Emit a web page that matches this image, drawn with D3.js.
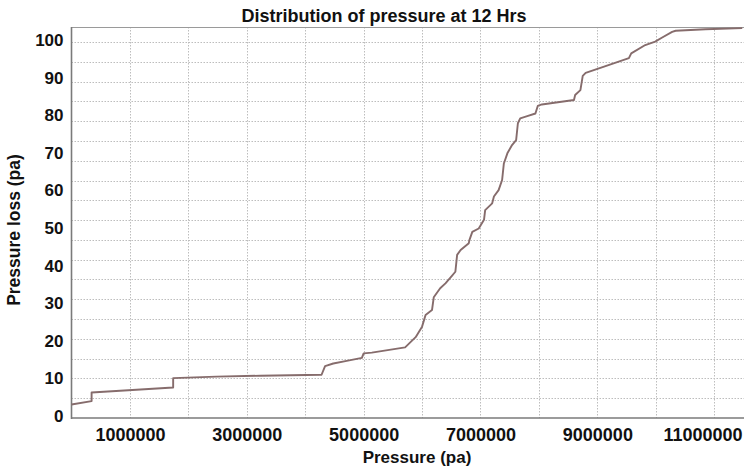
<!DOCTYPE html>
<html>
<head>
<meta charset="utf-8">
<script src="https://cdn.jsdelivr.net/npm/d3@7"></script>
<style>
  html, body { margin: 0; padding: 0; background: #ffffff; }
  svg { display: block; }
  text { font-family: "Liberation Sans", Arial, sans-serif; font-weight: bold; fill: #111; }
</style>
</head>
<body>
<svg id="chart" width="744" height="471"></svg>
<script>
// ---- data ----
const pressure = [
  0, 344000, 344000, 1740000, 1740000, 2480000, 3230000, 4280000, 4340000, 4480000,
  4710000, 4970000, 5000000, 5140000, 5710000, 5890000, 6000000, 6060000, 6170000, 6200000,
  6310000, 6400000, 6500000, 6570000, 6600000, 6660000, 6800000, 6810000, 6860000, 6970000,
  7060000, 7080000, 7200000, 7230000, 7310000, 7370000, 7400000, 7460000, 7540000, 7610000,
  7640000, 7680000, 7800000, 7940000, 7980000, 8050000, 8600000, 8620000, 8710000, 8750000,
  8800000, 9140000, 9540000, 9580000, 9820000, 9990000, 10110000, 10280000, 10340000, 10850000,
  11480000
];
const pressureLoss = [
  3.6, 4.5, 6.8, 8.1, 10.6, 11.0, 11.25, 11.5, 13.8, 14.5,
  15.2, 16.0, 17.2, 17.4, 18.8, 21.5, 24.3, 27.4, 28.7, 32.1,
  34.5, 35.8, 37.6, 38.9, 43.4, 44.7, 46.5, 47.3, 49.5, 50.4,
  52.7, 55.3, 57.1, 58.9, 60.6, 63.3, 67.7, 70.4, 72.6, 73.9,
  78.4, 79.7, 80.3, 81.0, 83.0, 83.4, 84.6, 85.9, 87.2, 91.0,
  91.8, 93.6, 95.7, 97.0, 99.2, 100.1, 101.2, 102.7, 103.0, 103.4,
  103.7
];
const xTickValues = [1000000, 3000000, 5000000, 7000000, 9000000, 11000000];
const yTickValues = [0, 10, 20, 30, 40, 50, 60, 70, 80, 90, 100];
const xGridValues = [1000000, 2000000, 3000000, 4000000, 5000000, 6000000, 7000000, 8000000, 9000000, 10000000, 11000000];
const yGridValues = d3.range(1, 20).map(i => i * 100 / 19);
const titleText = "Distribution of pressure at 12 Hrs";
const xTitle = "Pressure (pa)";
const yTitle = "Pressure loss (pa)";

// ---- layout ----
const svg = d3.select("#chart");
const L = 71.5, R = 744, T = 27, B = 418;

const x = d3.scaleLinear().domain([0, 11510000]).range([L, R]);
const y = d3.scaleLinear().domain([0, 104]).range([B, T]);

// grid
const grid = svg.append("g");
grid.selectAll("line.h").data(yGridValues).join("line")
  .attr("x1", L).attr("x2", R)
  .attr("y1", d => Math.round(y(d)) + 0.5).attr("y2", d => Math.round(y(d)) + 0.5)
  .attr("stroke", "#bdbdbd").attr("stroke-width", 1).attr("stroke-dasharray", "1.5,1.5");
grid.selectAll("line.v").data(xGridValues).join("line")
  .attr("y1", T).attr("y2", B)
  .attr("x1", d => Math.round(x(d)) + 0.5).attr("x2", d => Math.round(x(d)) + 0.5)
  .attr("stroke", "#bdbdbd").attr("stroke-width", 1).attr("stroke-dasharray", "1.5,1.5");

// frame
svg.append("line").attr("x1", L).attr("x2", R).attr("y1", T + 0.5).attr("y2", T + 0.5)
  .attr("stroke", "#9a9a9a").attr("stroke-width", 1.2);
svg.append("line").attr("x1", L).attr("x2", L).attr("y1", T).attr("y2", B + 1)
  .attr("stroke", "#7a7a7a").attr("stroke-width", 1.6);
svg.append("line").attr("x1", L).attr("x2", R).attr("y1", B).attr("y2", B)
  .attr("stroke", "#7a7a7a").attr("stroke-width", 1.6);

// curve
const line = d3.line().x((d, i) => x(pressure[i])).y((d, i) => y(pressureLoss[i]));
svg.append("path").datum(pressureLoss)
  .attr("d", line)
  .attr("fill", "none")
  .attr("stroke", "#866c6c")
  .attr("stroke-width", 1.9)
  .attr("stroke-linejoin", "round");

// y axis labels
const yAxis = d3.axisLeft(y).tickValues(yTickValues).tickSize(0).tickPadding(8).tickFormat(d3.format("d"));
const gy = svg.append("g").attr("transform", `translate(${L},0)`).call(yAxis);
gy.select(".domain").remove();
gy.selectAll("text").style("font-size", "17px").attr("dy", "0.2em").attr("x", -8);

// x axis labels
const xAxis = d3.axisBottom(x).tickValues(xTickValues).tickSize(0).tickPadding(10).tickFormat(d3.format("d"));
const gx = svg.append("g").attr("transform", `translate(0,${B})`).call(xAxis);
gx.select(".domain").remove();
gx.selectAll("text").style("font-size", "18px");
gx.selectAll(".tick").filter(d => d === 11000000).select("text")
  .attr("text-anchor", "end").attr("x", 742 - x(11000000));

// titles
svg.append("text").attr("x", 384).attr("y", 22).attr("text-anchor", "middle")
  .style("font-size", "18px").text(titleText);
svg.append("text").attr("x", 417).attr("y", 463).attr("text-anchor", "middle")
  .style("font-size", "17px").text(xTitle);
svg.append("text").attr("transform", "translate(20,230) rotate(-90)").attr("text-anchor", "middle")
  .style("font-size", "17.5px").text(yTitle);
</script>
</body>
</html>
